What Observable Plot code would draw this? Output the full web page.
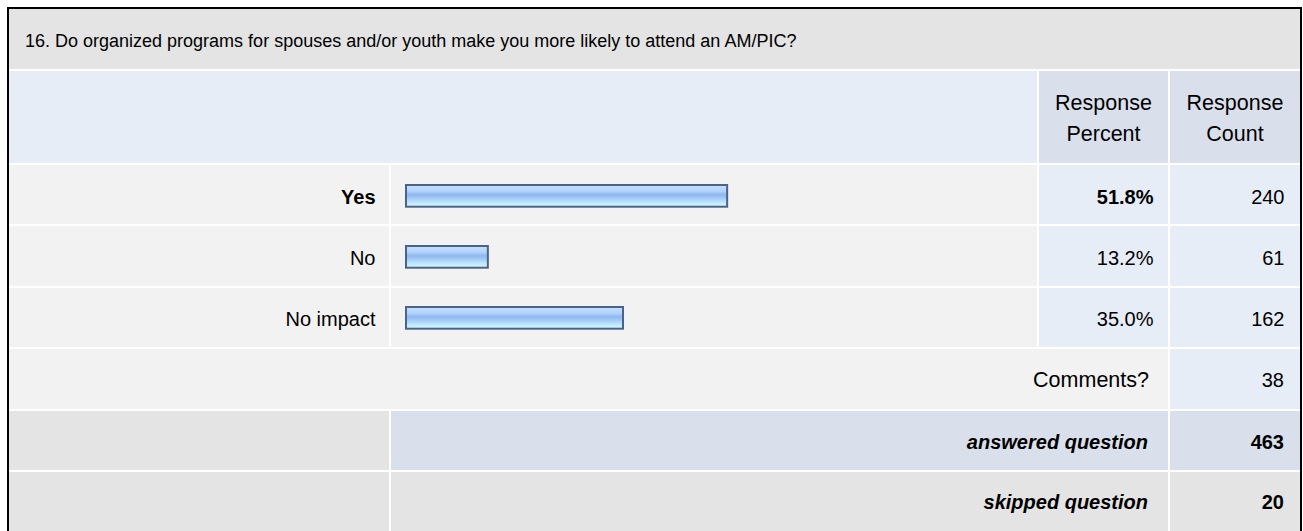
<!DOCTYPE html>
<html><head><meta charset="utf-8">
<script src="https://cdn.jsdelivr.net/npm/d3@7"></script>
<script src="https://cdn.jsdelivr.net/npm/@observablehq/plot@0.6"></script>
<style>
html,body{margin:0;padding:0;background:#fff;}
body{width:1303px;height:531px;overflow:hidden;position:relative;font-family:"Liberation Sans",Arial,Helvetica,sans-serif;color:#000;}
#frame{position:absolute;left:7px;top:7px;width:1291px;height:600px;border:2px solid #000;background:#fff;}
.cell{position:absolute;box-sizing:border-box;display:flex;align-items:center;font-size:20px;white-space:nowrap;}
.r{justify-content:flex-end;}
.c{justify-content:center;text-align:center;line-height:31px;font-size:21.5px;}
#chart{position:absolute;left:9px;top:164px;}
</style></head><body>
<div id="frame"></div>
<div id="cells"></div>
<div id="chart"></div>
<script>
// ---- data ----
const title = "16. Do organized programs for spouses and/or youth make you more likely to attend an AM/PIC?";
const headers = ["Response<br>Percent", "Response<br>Count"];
const answers = ["Yes", "No", "No impact"];
const percents = [51.8, 13.2, 35.0];
const counts = [240, 61, 162];
const commentsLabel = "Comments?";
const commentsCount = 38;
const summaryLabels = ["answered question", "skipped question"];
const summaryCounts = [463, 20];

// ---- table layout (HTML) ----
const GREY = "#e4e4e4", LIGHT = "#f2f2f2", BLUE = "#e6edf7", MID = "#d9e0eb";
const X = {l0: 9, l1: 389, b0: 391, b1: 1037, p0: 1039, p1: 1168, c0: 1170, c1: 1300};
const cells = document.getElementById("cells");
function cell(x0, x1, y0, y1, bg, html, cls = "", style = "") {
  const d = document.createElement("div");
  d.className = "cell " + cls;
  d.style.cssText = `left:${x0}px;top:${y0}px;width:${x1 - x0}px;height:${y1 - y0}px;background:${bg};${style}`;
  d.innerHTML = html;
  cells.appendChild(d);
}
// title
cell(X.l0, X.c1, 9, 69, GREY, title, "", "padding:4px 0 0 16px;font-size:18px;");
// header
cell(X.l0, X.b1, 71, 163, BLUE, "");
cell(X.p0, X.p1, 71, 163, MID, headers[0], "c", "padding-top:3px;");
cell(X.c0, X.c1, 71, 163, MID, headers[1], "c", "padding-top:3px;");
// data rows backgrounds
const rowY = [[165, 224], [226, 286], [288, 347]];
rowY.forEach(([y0, y1]) => {
  cell(X.l0, X.l1, y0, y1, LIGHT, "");
  cell(X.b0, X.b1, y0, y1, LIGHT, "");
  cell(X.p0, X.p1, y0, y1, BLUE, "");
  cell(X.c0, X.c1, y0, y1, BLUE, "");
});
// comments row
cell(X.l0, X.p1, 349, 409, LIGHT, commentsLabel, "r", "padding:3px 19px 0 0;font-size:21.5px;");
cell(X.c0, X.c1, 349, 409, BLUE, String(commentsCount), "r", "padding:3px 16px 0 0;");
// summary rows
const sumY = [[411, 470], [472, 560]];
const sumBg = [[GREY, MID, MID], [GREY, GREY, GREY]];
summaryLabels.forEach((lab, i) => {
  const [y0, y1] = sumY[i];
  const extra = i === 1 ? "align-items:flex-start;padding-top:19px;" : "";
  cell(X.l0, X.l1, y0, y1, sumBg[i][0], "");
  cell(X.b0, X.p1, y0, y1, sumBg[i][1], lab, "r", `padding:3px 20px 0 0;font-weight:bold;font-style:italic;${extra}`);
  cell(X.c0, X.c1, y0, y1, sumBg[i][2], String(summaryCounts[i]), "r", `padding:3px 16px 0 0;font-weight:bold;${extra}`);
});

// ---- chart (Observable Plot) ----
const rows = answers.map((a, i) => ({answer: a, percent: percents[i], count: counts[i]}));
const maxP = d3.max(rows, d => d.percent);
const font = '"Liberation Sans", Arial, Helvetica, sans-serif';
const chart = Plot.plot({
  width: 1291,
  height: 184,
  marginLeft: 397,
  marginRight: 274,
  marginTop: 0,
  marginBottom: 0,
  x: {domain: [0, 100], axis: null},
  y: {domain: answers, axis: null, padding: 0},
  style: {background: "transparent", fontFamily: font, fontSize: "20px", color: "#000", overflow: "visible"},
  marks: [
    Plot.barX(rows, {x: "percent", y: "answer", fill: "url(#barGrad)", stroke: "#4b6385", strokeWidth: 2, insetTop: 20, insetBottom: 19.3}),
    Plot.text(rows, {filter: d => d.percent === maxP, y: "answer", text: "answer", frameAnchor: "left", textAnchor: "end", dx: -31, dy: 2, fontSize: 20, fontWeight: "bold", fill: "#000"}),
    Plot.text(rows, {filter: d => d.percent !== maxP, y: "answer", text: "answer", frameAnchor: "left", textAnchor: "end", dx: -31, dy: 2, fontSize: 20, fill: "#000"}),
    Plot.text(rows, {filter: d => d.percent === maxP, y: "answer", text: d => d.percent.toFixed(1) + "%", frameAnchor: "right", textAnchor: "end", dx: 127, dy: 2, fontSize: 20, fontWeight: "bold", fill: "#000"}),
    Plot.text(rows, {filter: d => d.percent !== maxP, y: "answer", text: d => d.percent.toFixed(1) + "%", frameAnchor: "right", textAnchor: "end", dx: 127, dy: 2, fontSize: 20, fill: "#000"}),
    Plot.text(rows, {y: "answer", text: d => String(d.count), frameAnchor: "right", textAnchor: "end", dx: 258, dy: 2, fontSize: 20, fill: "#000"})
  ]
});
const defs = d3.select(chart).insert("defs", ":first-child");
const g = defs.append("linearGradient").attr("id", "barGrad").attr("x1", 0).attr("y1", 0).attr("x2", 0).attr("y2", 1);
[[0, "#c6e0ff"], [0.28, "#b2d3fc"], [0.45, "#8fb7ef"], [0.6, "#a2c9f6"], [0.8, "#bfe6ff"], [1, "#d4fcff"]]
  .forEach(([o, c]) => g.append("stop").attr("offset", o).attr("stop-color", c));
document.getElementById("chart").appendChild(chart);
</script>
</body></html>
